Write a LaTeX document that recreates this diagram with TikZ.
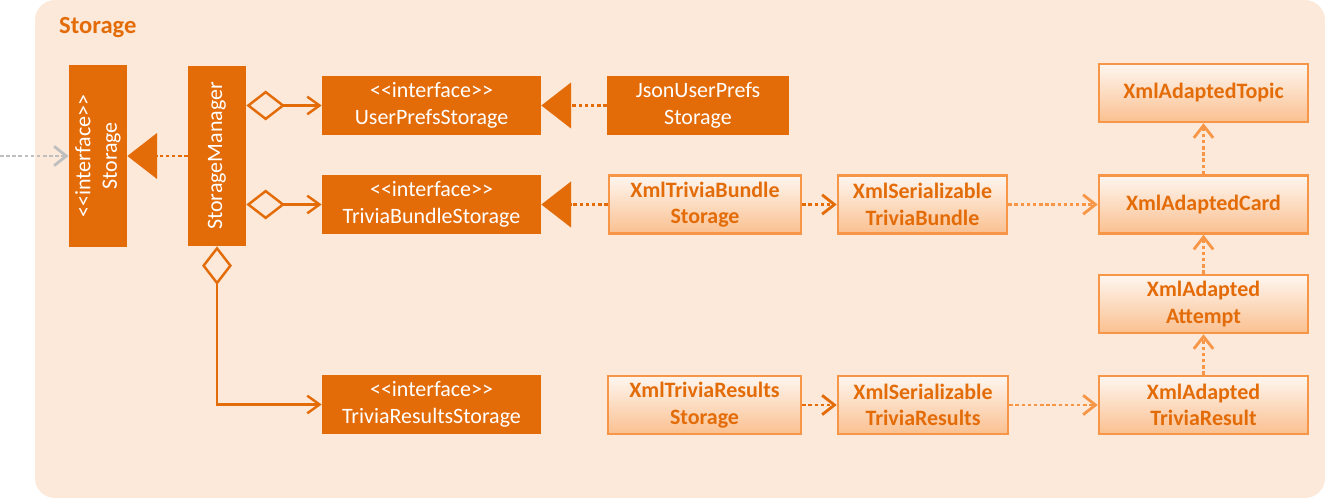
\documentclass[tikz,border=0pt]{standalone}
\usepackage{fontspec}
\setmainfont{Carlito}[Ligatures=TeXOff]
\usetikzlibrary{arrows.meta}
\definecolor{stobg}{HTML}{FDE9D9}
\definecolor{stodark}{HTML}{E36C09}
\definecolor{stolight}{HTML}{F79646}
\definecolor{stoshade}{HTML}{FAC090}
\definecolor{stoin}{HTML}{BFBFBF}
\tikzset{
  iface/.style={fill=stodark, text=white, align=center, inner sep=0pt, font=\fontsize{12.5}{15}\selectfont},
  xmlbox/.style={draw=stolight, line width=1.5pt, top color=stobg!40!white, bottom color=stoshade, text=stodark, align=center, inner sep=0pt, minimum height=1.16cm, font=\bfseries\fontsize{12.5}{15}\selectfont},
  realize/.style={stodark, line width=1.6pt, dash pattern=on 2pt off 1.5pt, -{Triangle[length=17pt,width=26pt]}},
  owns/.style={stodark, line width=1.4pt, {Diamond[open,length=22pt,width=17pt]}-{Straight Barb[length=7pt,width=10pt]}},
  dep/.style={line width=1.6pt, dash pattern=on 2pt off 1.5pt, -{Straight Barb[length=7pt,width=11pt]}},
}
\begin{document}
\begin{tikzpicture}[x=0.02cm, y=-0.02cm]
\useasboundingbox (0,0) rectangle (1325,499);
\fill[stobg, rounded corners=0.4cm] (35,0) rectangle (1325,498);
\node[anchor=west, text=stodark, font=\bfseries\fontsize{14}{17}\selectfont] (title) at (53,28) {Storage};

% interfaces and manager
\node[iface, rotate=90, minimum width=3.64cm, minimum height=1.16cm] (st) at (98,156) {<<interface>>\\Storage};
\node[iface, rotate=90, minimum width=3.6cm, minimum height=1.16cm] (sm) at (217,156) {StorageManager};
\node[iface, minimum width=4.38cm, minimum height=1.18cm] (ups) at (431.5,105.5) {<<interface>>\\UserPrefsStorage};
\node[iface, minimum width=4.38cm, minimum height=1.18cm] (tbs) at (431.5,204.5) {<<interface>>\\TriviaBundleStorage};
\node[iface, minimum width=4.38cm, minimum height=1.18cm] (trs) at (431.5,404.5) {<<interface>>\\TriviaResultsStorage};
\node[iface, minimum width=3.64cm, minimum height=1.18cm] (jups) at (698,105.5) {JsonUserPrefs\\Storage};

% xml classes
\node[xmlbox, minimum width=3.84cm] (xtbs) at (705,204.5) {XmlTriviaBundle\\Storage};
\node[xmlbox, minimum width=3.38cm] (xstb) at (922.5,204.5) {XmlSerializable\\TriviaBundle};
\node[xmlbox, minimum width=4.18cm] (xac) at (1203.5,204.5) {XmlAdaptedCard};
\node[xmlbox, minimum width=4.18cm] (xat) at (1203.5,93) {XmlAdaptedTopic};
\node[xmlbox, minimum width=4.18cm] (xaa) at (1203.5,304) {XmlAdapted\\Attempt};
\node[xmlbox, minimum width=4.18cm] (xatr) at (1203.5,405) {XmlAdapted\\TriviaResult};
\node[xmlbox, minimum width=3.86cm] (xtrs) at (704.5,405) {XmlTriviaResults\\Storage};
\node[xmlbox, minimum width=3.4cm] (xstr) at (923,405) {XmlSerializable\\TriviaResults};

\coordinate (in) at (0,156);
\draw[dep, stoin] (in) -- (st);
\draw[realize] (sm) -- (st);
\draw[owns] (sm.south |- ups) -- (ups);
\draw[owns] (sm.south |- tbs) -- (tbs);
\draw[owns] (sm.west) |- (trs);
\draw[realize] (jups) -- (ups);
\draw[realize] (xtbs) -- (tbs);
\draw[dep, stodark] (xtbs) -- (xstb);
\draw[dep, stolight] (xstb) -- (xac);
\draw[dep, stolight] (xac) -- (xat);
\draw[dep, stolight] (xaa) -- (xac);
\draw[dep, stolight] (xatr) -- (xaa);
\draw[dep, stodark] (xtrs) -- (xstr);
\draw[dep, stolight] (xstr) -- (xatr);
\end{tikzpicture}
\end{document}
